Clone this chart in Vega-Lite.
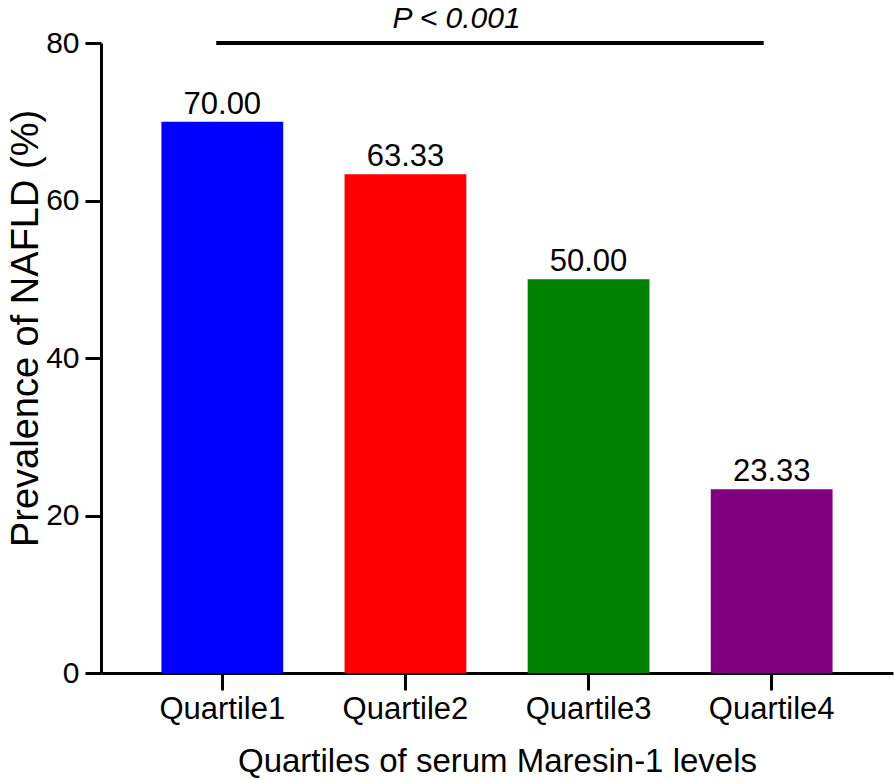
{
  "$schema": "https://vega.github.io/schema/vega-lite/v6.json",
  "width": 792,
  "height": 630,
  "autosize": {"type": "none"},
  "padding": {"left": 101, "top": 43, "right": 1, "bottom": 107},
  "background": "white",
  "config": {
    "view": {"stroke": null},
    "font": "Liberation Sans",
    "axis": {
      "domainColor": "black",
      "domainWidth": 3,
      "tickColor": "black",
      "tickWidth": 3,
      "labelColor": "black",
      "titleColor": "black",
      "titleFontWeight": "normal",
      "grid": false,
      "labelFont": "Liberation Sans",
      "titleFont": "Liberation Sans"
    }
  },
  "datasets": {
    "bars": [
      {"quartile": "Quartile1", "prevalence": 70.00},
      {"quartile": "Quartile2", "prevalence": 63.33},
      {"quartile": "Quartile3", "prevalence": 50.00},
      {"quartile": "Quartile4", "prevalence": 23.33}
    ],
    "sig": [
      {"from": "Quartile1", "to": "Quartile4", "at": "Quartile2", "level": 80, "label": "P < 0.001"}
    ]
  },
  "layer": [
    {
      "data": {"name": "bars"},
      "mark": {"type": "bar"},
      "encoding": {
        "x": {
          "field": "quartile",
          "type": "nominal",
          "sort": null,
          "scale": {"paddingInner": 0.335, "paddingOuter": 0.33},
          "axis": {
            "title": "Quartiles of serum Maresin-1 levels",
            "labelAngle": 0,
            "labelFontSize": 31,
            "labelPadding": 4,
            "tickSize": 17,
            "titleFontSize": 33,
            "titleBaseline": "alphabetic",
            "titleAnchor": "middle",
            "titleX": 396,
            "titleY": 98
          }
        },
        "y": {
          "field": "prevalence",
          "type": "quantitative",
          "scale": {"domain": [0, 80], "nice": false},
          "axis": {
            "values": [0, 20, 40, 60, 80],
            "title": "Prevalence of NAFLD (%)",
            "labelFontSize": 30,
            "labelPadding": 6,
            "tickSize": 16,
            "titleFontSize": 38,
            "titleAngle": -90,
            "titleBaseline": "alphabetic",
            "titleAlign": "center",
            "titleX": -64,
            "titleY": 285
          }
        },
        "color": {
          "field": "quartile",
          "type": "nominal",
          "scale": {
            "domain": ["Quartile1", "Quartile2", "Quartile3", "Quartile4"],
            "range": ["#0000FF", "#FF0000", "#008000", "#800080"]
          },
          "legend": null
        }
      }
    },
    {
      "data": {"name": "bars"},
      "mark": {"type": "text", "fontSize": 31, "baseline": "alphabetic", "dy": -8, "color": "black"},
      "encoding": {
        "x": {"field": "quartile", "type": "nominal", "sort": null},
        "y": {"field": "prevalence", "type": "quantitative"},
        "text": {"field": "prevalence", "type": "quantitative", "format": ".2f"}
      }
    },
    {
      "data": {"name": "sig"},
      "mark": {"type": "rule", "strokeWidth": 4, "color": "black", "x2Offset": -8},
      "encoding": {
        "x": {"field": "from", "type": "nominal", "bandPosition": 0.45},
        "x2": {"field": "to"},
        "y": {"field": "level", "type": "quantitative"}
      }
    },
    {
      "data": {"name": "sig"},
      "mark": {"type": "text", "fontSize": 30, "fontStyle": "italic", "baseline": "alphabetic", "dy": -15, "color": "black"},
      "encoding": {
        "x": {"field": "at", "type": "nominal", "bandPosition": 0.92},
        "y": {"field": "level", "type": "quantitative"},
        "text": {"field": "label"}
      }
    }
  ]
}
